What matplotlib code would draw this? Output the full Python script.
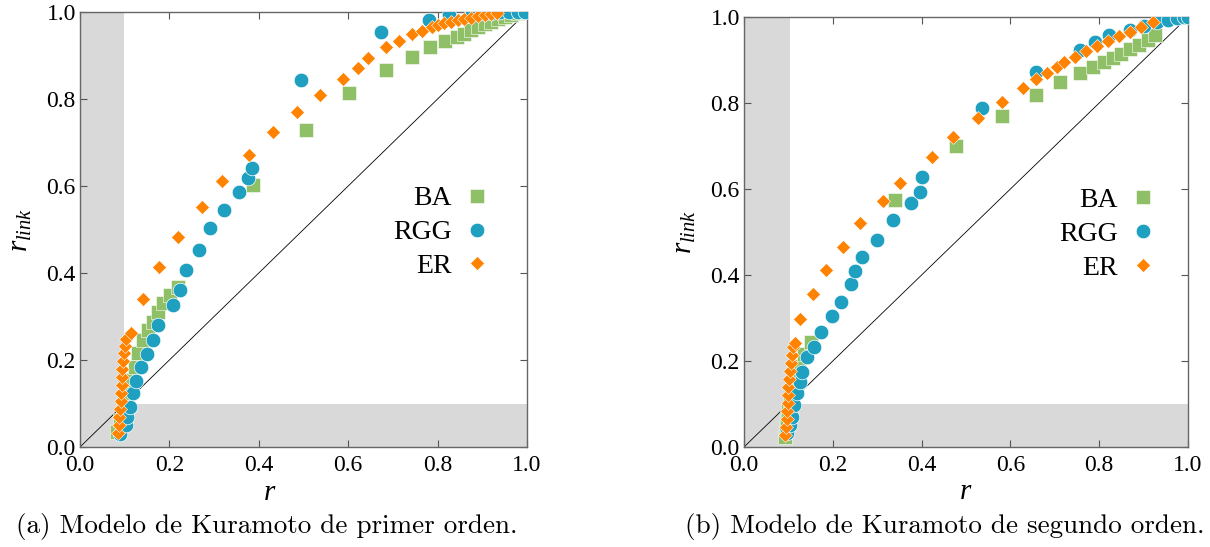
import matplotlib
matplotlib.use('Agg')
import matplotlib.pyplot as plt

plt.rcParams['font.family'] = 'serif'
plt.rcParams['font.serif'] = ['Liberation Serif', 'DejaVu Serif']
plt.rcParams['mathtext.fontset'] = 'custom'
plt.rcParams['mathtext.rm'] = 'Liberation Serif'
plt.rcParams['mathtext.it'] = 'Liberation Serif:italic'

c_ba, c_rgg, c_er = '#8fbf67', '#1fa0c0', '#ff8200'
shade = '#d9d9d9'

# (a) first order Kuramoto
a_ba_r = [0.082, 0.089, 0.097, 0.104, 0.112, 0.123, 0.130, 0.142, 0.153, 0.164, 0.175, 0.186,
          0.201, 0.220, 0.388, 0.505, 0.602, 0.685, 0.742, 0.783, 0.817, 0.843, 0.860, 0.875,
          0.890, 0.905, 0.920, 0.935, 0.950, 0.965, 0.980, 1.000]
a_ba_rl = [0.035, 0.062, 0.093, 0.123, 0.154, 0.185, 0.215, 0.246, 0.269, 0.288, 0.311, 0.330,
           0.349, 0.368, 0.602, 0.729, 0.814, 0.867, 0.896, 0.919, 0.933, 0.943, 0.950, 0.958,
           0.965, 0.972, 0.978, 0.984, 0.989, 0.993, 0.997, 1.000]
a_rgg_r = [0.089, 0.103, 0.106, 0.112, 0.118, 0.125, 0.136, 0.151, 0.163, 0.175, 0.209, 0.224,
           0.237, 0.266, 0.291, 0.322, 0.356, 0.376, 0.385, 0.494, 0.673, 0.781, 0.826, 0.876,
           0.900, 0.920, 0.940, 0.960, 0.980, 0.995]
a_rgg_rl = [0.030, 0.051, 0.070, 0.093, 0.123, 0.152, 0.183, 0.214, 0.246, 0.280, 0.326, 0.361,
            0.407, 0.453, 0.503, 0.545, 0.586, 0.618, 0.641, 0.844, 0.955, 0.982, 0.992, 0.995,
            0.997, 0.998, 0.999, 1.000, 1.000, 1.000]
a_er_r = [0.086, 0.087, 0.088, 0.089, 0.091, 0.092, 0.093, 0.094, 0.095, 0.097, 0.098, 0.101,
          0.103, 0.113, 0.142, 0.177, 0.219, 0.274, 0.318, 0.377, 0.431, 0.486, 0.537, 0.589,
          0.623, 0.644, 0.685, 0.714, 0.742, 0.764, 0.787, 0.800, 0.815, 0.830, 0.845, 0.860,
          0.875, 0.890, 0.905, 0.920, 0.932]
a_er_rl = [0.032, 0.051, 0.069, 0.087, 0.106, 0.124, 0.143, 0.161, 0.179, 0.198, 0.216, 0.232,
           0.248, 0.261, 0.340, 0.413, 0.483, 0.552, 0.612, 0.671, 0.723, 0.769, 0.809, 0.846,
           0.872, 0.894, 0.919, 0.934, 0.949, 0.957, 0.966, 0.970, 0.974, 0.978, 0.981, 0.984,
           0.987, 0.990, 0.993, 0.996, 0.998]

# (b) second order Kuramoto
b_ba_r = [0.092, 0.095, 0.097, 0.100, 0.104, 0.108, 0.115, 0.124, 0.135, 0.152, 0.339, 0.477,
          0.581, 0.658, 0.712, 0.757, 0.786, 0.810, 0.830, 0.850, 0.870, 0.890, 0.910, 0.925]
b_ba_rl = [0.023, 0.044, 0.065, 0.086, 0.109, 0.133, 0.158, 0.188, 0.216, 0.245, 0.574, 0.700,
           0.770, 0.819, 0.849, 0.870, 0.884, 0.895, 0.905, 0.915, 0.925, 0.935, 0.947, 0.957]
b_rgg_r = [0.096, 0.104, 0.107, 0.113, 0.119, 0.126, 0.130, 0.143, 0.158, 0.173, 0.198, 0.218,
           0.241, 0.250, 0.266, 0.300, 0.335, 0.375, 0.396, 0.402, 0.535, 0.658, 0.757, 0.791,
           0.823, 0.869, 0.900, 0.930, 0.955, 0.975, 0.990, 1.000]
b_rgg_rl = [0.032, 0.051, 0.070, 0.098, 0.125, 0.152, 0.175, 0.210, 0.233, 0.268, 0.305, 0.338,
            0.379, 0.409, 0.442, 0.481, 0.528, 0.568, 0.592, 0.629, 0.789, 0.873, 0.923, 0.943,
            0.957, 0.970, 0.980, 0.988, 0.994, 0.998, 1.000, 1.000]
b_er_r = [0.093, 0.095, 0.096, 0.097, 0.098, 0.099, 0.100, 0.101, 0.104, 0.106, 0.108, 0.110,
          0.115, 0.125, 0.155, 0.184, 0.222, 0.261, 0.312, 0.351, 0.423, 0.470, 0.528, 0.582,
          0.629, 0.658, 0.683, 0.704, 0.721, 0.745, 0.770, 0.795, 0.820, 0.845, 0.870, 0.895,
          0.922]
b_er_rl = [0.028, 0.047, 0.065, 0.084, 0.102, 0.121, 0.140, 0.158, 0.177, 0.195, 0.214, 0.233,
           0.241, 0.298, 0.356, 0.412, 0.464, 0.520, 0.573, 0.615, 0.675, 0.722, 0.764, 0.802,
           0.836, 0.856, 0.870, 0.884, 0.895, 0.908, 0.920, 0.932, 0.944, 0.955, 0.966, 0.977,
           0.989]

ticks = [0.0, 0.2, 0.4, 0.6, 0.8, 1.0]
captions = ['(a) Modelo de Kuramoto de primer orden.',
            '(b) Modelo de Kuramoto de segundo orden.']

fig = plt.figure(figsize=(12.1, 5.47), dpi=100)
ax1 = fig.add_axes([80/1210, 100/547, 447/1210, 435/547])
ax2 = fig.add_axes([744/1210, 100/547, 444/1210, 430/547])

panels = [
    (ax1, a_ba_r, a_ba_rl, a_rgg_r, a_rgg_rl, a_er_r, a_er_rl, 0.098, (0.919, 0.493), 0.425),
    (ax2, b_ba_r, b_ba_rl, b_rgg_r, b_rgg_rl, b_er_r, b_er_rl, 0.103, (0.930, 0.495), 0.5),
]

for ax, bx, by, gx, gy, ex, ey, band, legpos, labx in panels:
    ax.axvspan(0, band, color=shade, lw=0, zorder=0)
    ax.fill_between([band, 1.0], 0, 0.1, color=shade, lw=0, zorder=0)
    ax.plot([0, 1], [0, 1], color='black', lw=0.6, zorder=1)

    ax.plot(bx, by, 's', color=c_ba, ms=9.5, mec='white', mew=0.4, label='BA', zorder=2)
    ax.plot(gx, gy, 'o', color=c_rgg, ms=10.5, mec='white', mew=0.5, label='RGG', zorder=3)
    ax.plot(ex, ey, 'D', color=c_er, ms=7.5, mec='white', mew=0.4, label='ER', zorder=4)

    ax.set_xlim(0, 1)
    ax.set_ylim(0, 1)
    ax.set_xticks(ticks)
    ax.set_yticks(ticks)
    ax.set_xticklabels([f'{t:.1f}' for t in ticks])
    ax.set_yticklabels([f'{t:.1f}' for t in ticks])
    ax.tick_params(direction='in', top=True, right=True, length=5, width=0.8,
                   color='#555555', labelsize=17, pad=3)
    ax.tick_params(axis='x', pad=6)
    for s in ax.spines.values():
        s.set_color('#666666')
        s.set_linewidth(1.0)

    ax.set_xlabel('$r$', fontsize=21, labelpad=2)
    ax.xaxis.set_label_coords(labx, -0.075)
    ax.set_ylabel('$r_{link}$', fontsize=21, labelpad=9)

    ax.legend(loc='center right', bbox_to_anchor=legpos, frameon=False,
              markerfirst=False, fontsize=20, handlelength=1.0, handletextpad=0.4,
              labelspacing=0.3, borderpad=0, borderaxespad=0)

fig.text(267/1210, 1 - 527/547, captions[0], family='cmr10', fontsize=19.5,
         ha='center', va='center')
fig.text(945/1210, 1 - 527/547, captions[1], family='cmr10', fontsize=19.5,
         ha='center', va='center')

plt.savefig('out.png', dpi=100)
